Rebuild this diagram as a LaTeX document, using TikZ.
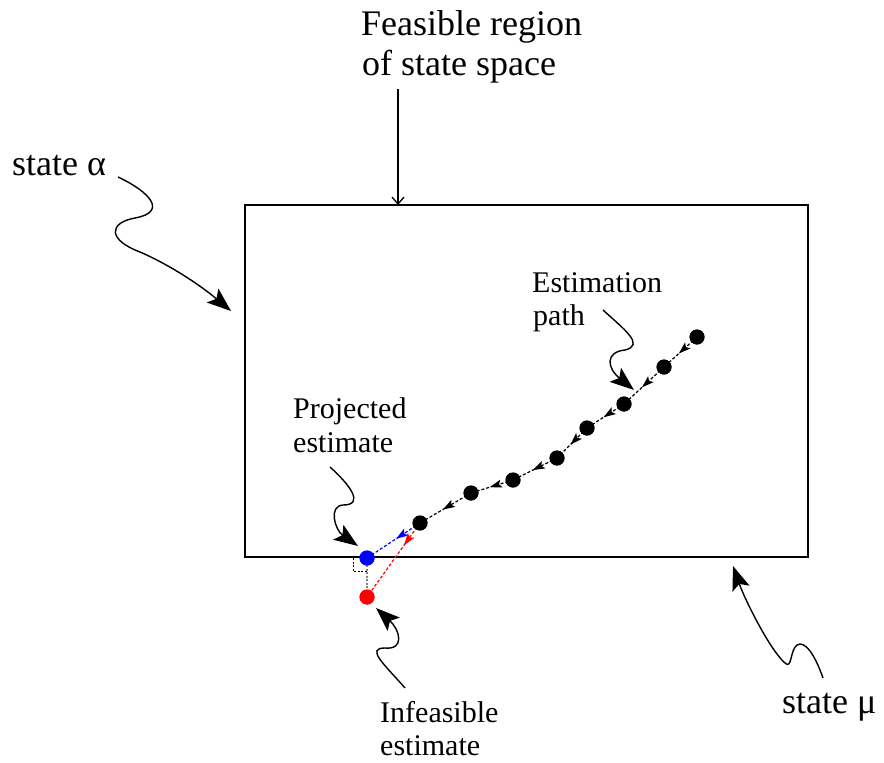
\documentclass[tikz,border=0pt]{standalone}
\usepackage{fontspec}
\setmainfont{Liberation Serif}
\usetikzlibrary{arrows.meta,decorations.markings}
\tikzset{
  bigtxt/.style={font=\fontsize{36}{40}\selectfont, inner sep=0pt, anchor=base west},
  smalltxt/.style={font=\fontsize{30}{33}\selectfont, inner sep=0pt, anchor=base west},
  pointer/.style={line width=1.4pt, -{Stealth[length=24pt,width=18pt,inset=5pt]}},
  dot/.style={circle, fill=black, minimum size=15pt, inner sep=0pt},
  stepline/.style={line width=1.2pt, dash pattern=on 3pt off 2pt,
    postaction={decorate, decoration={markings, mark=at position #1 with {\arrow{Stealth[length=12pt,width=8pt,inset=2.5pt]}}}}},
  stepline/.default=0.55
}
\begin{document}
\begin{tikzpicture}[x=1pt,y=-1pt]
\useasboundingbox (0,0) rectangle (884,763);
% feasible region
\draw[line width=2.2pt] (245,205) rectangle (808,557);
\coordinate (top) at (398,205);
\coordinate (c1) at (398,89);

% labels
\node[bigtxt] (f1) at (361,35) {Feasible region};
\node[bigtxt] (f2) at (362,75) {of state space};
\node[bigtxt] (sa) at (12,175) {state α};
\node[bigtxt] (sm) at (782,713) {state μ};
\node[smalltxt] (e1) at (532,292) {Estimation};
\node[smalltxt] (e2) at (533,325) {path};
\node[smalltxt] (pr1) at (293,418) {Projected};
\node[smalltxt] (pr2) at (293,452) {estimate};
\node[smalltxt] (in1) at (380,722) {Infeasible};
\node[smalltxt] (in2) at (380,755) {estimate};

% points
\node[dot] (p1) at (697,337) {};
\node[dot] (p2) at (664,367) {};
\node[dot] (p3) at (624,404) {};
\node[dot] (p4) at (587,428) {};
\node[dot] (p5) at (557,458) {};
\node[dot] (p6) at (513,480) {};
\node[dot] (p7) at (471,493) {};
\node[dot] (p8) at (420,523) {};
\node[dot, fill=blue] (pb) at (367,558) {};
\node[dot, fill=red] (pr) at (367,597) {};

% right angle marker
\coordinate (ra1) at (353,558);
\coordinate (ra2) at (353,571);
\coordinate (ra3) at (367,571);
\draw[line width=0.9pt, dash pattern=on 2pt off 1.5pt] (ra1) -- (ra2) -- (ra3);

% path segments
\draw[stepline] (p1.center) -- (p2.center);
\draw[stepline] (p2.center) -- (p3.center);
\draw[stepline] (p3.center) -- (p4.center);
\draw[stepline] (p4.center) -- (p5.center);
\draw[stepline] (p5.center) -- (p6.center);
\draw[stepline] (p6.center) -- (p7.center);
\draw[stepline] (p7.center) -- (p8.center);
\draw[stepline=0.45, blue] (p8.center) -- (pb.center);
\draw[stepline=0.3, red] (p8.center) -- (pr.center);
\draw[gray, line width=1.2pt, dash pattern=on 2pt off 1.5pt] (pb.center) -- (pr.center);

% redraw dots on top
\foreach \n in {p1,p2,p3,p4,p5,p6,p7,p8} \fill (\n) circle (7.5pt);
\fill[blue] (pb) circle (7.5pt);
\fill[red] (pr) circle (7.5pt);

% feasible arrow
\draw[line width=1.3pt, -{Straight Barb[length=7pt,width=12pt]}] (c1) -- (top);

% wavy pointers
\coordinate (sa0) at (118,177);
\coordinate (sa1) at (231,311);
\draw[pointer] (sa0) .. controls (150,192) and (168,212) .. (135,218)
  .. controls (108,223) and (108,240) .. (140,252)
  .. controls (170,265) and (200,285) .. (sa1);

\coordinate (sm0) at (823,678);
\coordinate (sm1) at (733,566);
\draw[pointer] (sm0) .. controls (815,655) and (805,640) .. (797,645)
  .. controls (790,650) and (792,670) .. (785,663)
  .. controls (770,650) and (745,600) .. (sm1);

\coordinate (ep0) at (603,310);
\coordinate (ep1) at (634,390);
\draw[pointer] (ep0) .. controls (625,330) and (645,345) .. (625,350)
  .. controls (605,352) and (607,368) .. (ep1);

\coordinate (pj0) at (330,467);
\coordinate (pj1) at (358,546);
\draw[pointer] (pj0) .. controls (350,485) and (365,505) .. (343,505)
  .. controls (328,506) and (335,530) .. (pj1);

\coordinate (if0) at (405,688);
\coordinate (if1) at (376,608);
\draw[pointer] (if0) .. controls (385,665) and (365,648) .. (385,648)
  .. controls (405,650) and (400,630) .. (if1);
\end{tikzpicture}
\end{document}
